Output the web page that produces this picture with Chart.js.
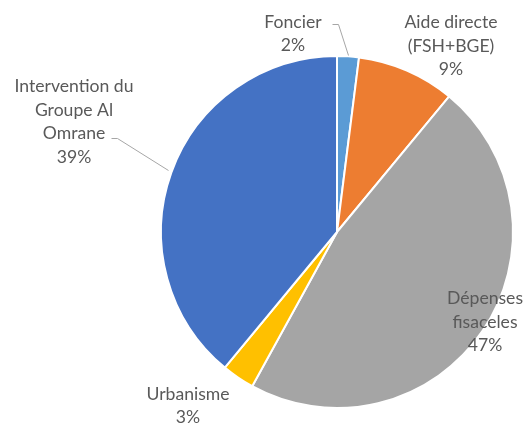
<!DOCTYPE html>
<html>
<head>
<meta charset="utf-8">
<script src="https://cdn.jsdelivr.net/npm/chart.js@4"></script>
<style>
html,body{margin:0;padding:0;background:#fff;}
#wrap{width:524px;height:423px;}
</style>
</head>
<body>
<div id="wrap"><canvas id="c" width="524" height="423"></canvas></div>
<script>
const categories = ["Foncier", "Aide directe (FSH+BGE)", "Dépenses fisaceles", "Urbanisme", "Intervention du Groupe Al Omrane"];
const values = [2, 9, 47, 3, 39];
const labelLines = [["Foncier", "2%"], ["Aide directe", "(FSH+BGE)", "9%"], ["Dépenses", "fisaceles", "47%"], ["Urbanisme", "3%"], ["Intervention du", "Groupe Al", "Omrane", "39%"]];
const colors = ["#5B9BD5", "#ED7D31", "#A5A5A5", "#FFC000", "#4472C4"];

// label placement (offsets from pie centre, px) and leader lines
const labelPos = [[-44, -198], [114, -186], [148, 90], [-149, 174], [-263, -110]];
const leaders = [
  [[-5, -208], [1, -208], [11, -177]],
  null, null, null,
  [[-226, -94], [-220, -94], [-169, -62]]
];

const labelPlugin = {
  id: 'pieLabels',
  afterDatasetsDraw(chart) {
    const ctx = chart.ctx;
    const meta = chart.getDatasetMeta(0);
    const arc0 = meta.data[0];
    const cx = arc0.x, cy = arc0.y;
    ctx.save();
    ctx.strokeStyle = '#A6A6A6';
    ctx.lineWidth = 1;
    leaders.forEach(l => {
      if (!l) return;
      ctx.beginPath();
      ctx.moveTo(cx + l[0][0] + 0.5, cy + l[0][1] + 0.5);
      for (let i = 1; i < l.length; i++) ctx.lineTo(cx + l[i][0] + 0.5, cy + l[i][1] + 0.5);
      ctx.stroke();
    });
    ctx.fillStyle = '#595959';
    ctx.font = '17.6px Lato';
    ctx.textAlign = 'center';
    ctx.textBaseline = 'middle';
    const lh = 23.5;
    labelLines.forEach((lines, i) => {
      const [dx, dy] = labelPos[i];
      const n = lines.length;
      lines.forEach((t, j) => {
        ctx.fillText(t, cx + dx, cy + dy + (j - (n - 1) / 2) * lh);
      });
    });
    ctx.restore();
  }
};

new Chart(document.getElementById('c'), {
  type: 'pie',
  data: {
    labels: categories,
    datasets: [{
      data: values,
      backgroundColor: colors,
      borderColor: '#ffffff',
      borderWidth: 2
    }]
  },
  options: {
    responsive: false,
    animation: false,
    layout: { padding: { left: 160, right: 10, top: 55, bottom: 14 } },
    plugins: { legend: { display: false }, tooltip: { enabled: false } }
  },
  plugins: [labelPlugin]
});
</script>
</body>
</html>
